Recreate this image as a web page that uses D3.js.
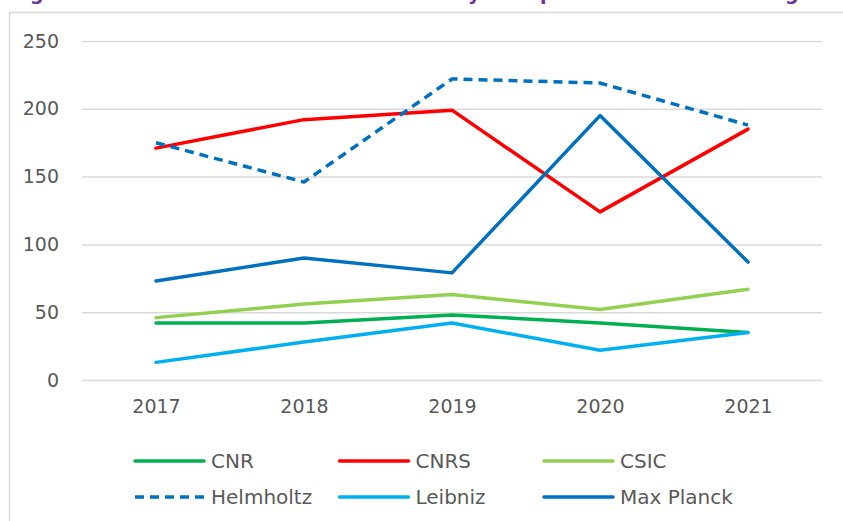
<!DOCTYPE html>
<html>
<head>
<meta charset="utf-8">
<script src="https://cdn.jsdelivr.net/npm/d3@7"></script>
<style>
    html, body { margin: 0; padding: 0; background: #fff; }
    svg { display: block; font-family: "DejaVu Sans", sans-serif; }
</style>
</head>
<body>
<div id="chart"></div>
<script>
const years = ['2017', '2018', '2019', '2020', '2021'];
const seriesNames = ['CNR', 'CNRS', 'CSIC', 'Helmholtz', 'Leibniz', 'Max Planck'];
const cnr = [42, 42, 48, 42, 35];
const cnrs = [171, 192, 199, 124, 185];
const csic = [46, 56, 63, 52, 67];
const helmholtz = [175, 146, 222, 219, 188];
const leibniz = [13, 28, 42, 22, 35];
const maxPlanck = [73, 90, 79, 195, 87];
const yTicks = [0, 50, 100, 150, 200, 250];

// title is cut off by the top edge, only descenders show
const titleParts = ['Figure 9: Number of ERC awards ', 'by the ', 'partner ', 'excluding'];

const colors = ['#00b050', '#ff0000', '#92d050', '#0070c0', '#00b0f0', '#0070c0'];
const dashes = [null, null, null, '9,6', null, null];

const series = [cnr, cnrs, csic, helmholtz, leibniz, maxPlanck].map((values, i) => ({
    name: seriesNames[i],
    values,
    color: colors[i],
    dash: dashes[i]
}));

let width = 843;
let height = 521;
let margin = { top: 41, right: 21, bottom: 141, left: 82 };

const svg = d3.select('#chart')
    .append('svg')
    .attr('width', width)
    .attr('height', height);

const title = svg.append('text')
    .attr('y', -0.5)
    .attr('fill', '#7030a0')
    .style('font-weight', 'bold')
    .style('font-size', '19px');

// place each part so its descender letter lands where the reference shows it
const anchors = [[2, 30], [1, 468], [0, 540], [8, 785]];
titleParts.forEach((part, i) => {
    const ts = title.append('tspan').attr('x', 0).text(part);
    const [idx, target] = anchors[i];
    const off = idx > 0 ? ts.node().getSubStringLength(0, idx) : 0;
    ts.attr('x', target - off);
});

// chart frame
svg.append('rect')
    .attr('x', 9.5)
    .attr('y', 12.5)
    .attr('width', 850)
    .attr('height', 530)
    .attr('fill', 'none')
    .attr('stroke', '#d9d9d9')
    .attr('stroke-width', 1.5);

const x = d3.scalePoint()
    .domain(years)
    .range([margin.left, width - margin.right])
    .padding(0.5);

const y = d3.scaleLinear()
    .domain([0, 250])
    .range([height - margin.bottom, margin.top]);

svg.append('g')
    .attr('class', 'gridlines')
    .attr('transform', `translate(${margin.left}, 0)`)
    .call(d3.axisLeft(y)
        .tickValues(yTicks)
        .tickFormat('')
        .tickSize(-(width - margin.right - margin.left)))
    .call(g => g.select('.domain').remove())
    .call(g => g.selectAll('line')
        .attr('stroke', '#d9d9d9')
        .attr('stroke-width', 1.5));

svg.append('g')
    .attr('class', 'y-axis')
    .attr('transform', `translate(${margin.left - 20}, 0)`)
    .call(d3.axisLeft(y).tickValues(yTicks).tickSize(0))
    .call(g => g.select('.domain').remove())
    .call(g => g.selectAll('text')
        .attr('fill', '#595959')
        .style('font-size', '19px')
        .style('font-family', '"DejaVu Sans", sans-serif'));

svg.append('g')
    .attr('class', 'x-axis')
    .attr('transform', `translate(0, ${y(0)})`)
    .call(d3.axisBottom(x).tickSize(0).tickPadding(20))
    .call(g => g.select('.domain').remove())
    .call(g => g.selectAll('text')
        .attr('fill', '#595959')
        .style('font-size', '19px')
        .style('font-family', '"DejaVu Sans", sans-serif'));

const line = d3.line()
    .x((d, i) => x(years[i]))
    .y(d => y(d));

svg.append('g')
    .attr('class', 'lines')
    .selectAll('path')
    .data(series)
    .join('path')
    .attr('d', d => line(d.values))
    .attr('fill', 'none')
    .attr('stroke', d => d.color)
    .attr('stroke-width', 3.5)
    .attr('stroke-linejoin', 'round')
    .attr('stroke-linecap', d => d.dash ? 'butt' : 'round')
    .attr('stroke-dasharray', d => d.dash);

// legend: 3 columns, 2 rows
const legend = svg.append('g')
    .attr('class', 'legend')
    .selectAll('g')
    .data(series)
    .join('g')
    .attr('transform', (d, i) => `translate(${135 + (i % 3) * 204.5}, ${461 + Math.floor(i / 3) * 36})`);

legend.append('line')
    .attr('x1', 0)
    .attr('x2', 69)
    .attr('stroke', d => d.color)
    .attr('stroke-width', 3.5)
    .attr('stroke-linecap', d => d.dash ? 'butt' : 'round')
    .attr('stroke-dasharray', d => d.dash);

legend.append('text')
    .attr('x', 76)
    .attr('dy', '0.35em')
    .attr('fill', '#595959')
    .style('font-size', '20px')
    .text(d => d.name);
</script>
</body>
</html>
